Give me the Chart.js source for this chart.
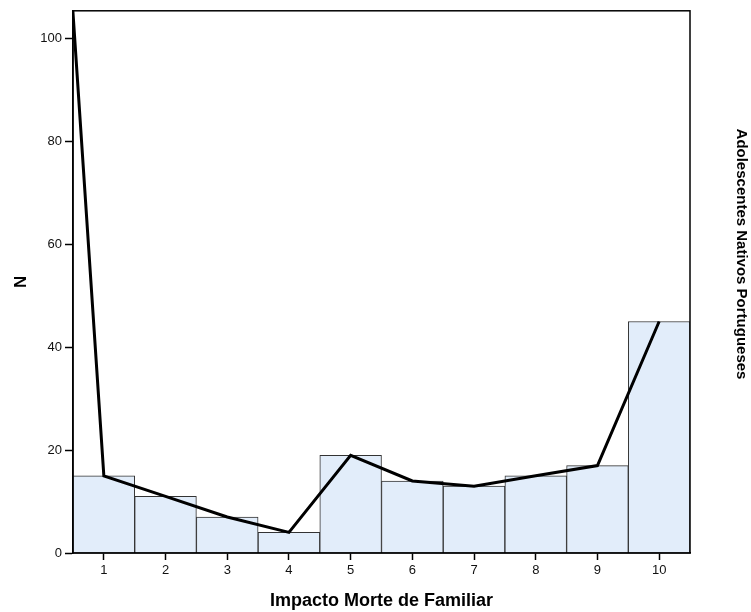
<!DOCTYPE html>
<html>
<head>
<meta charset="utf-8">
<script src="https://cdn.jsdelivr.net/npm/chart.js@4/dist/chart.umd.min.js"></script>
<style>
  html, body { margin: 0; padding: 0; background: #fff; }
  #wrap { width: 751px; height: 612px; }
</style>
</head>
<body>
<div id="wrap"><canvas id="c"></canvas></div>
<script>
var categorias = [1, 2, 3, 4, 5, 6, 7, 8, 9, 10];
var frequencias = [15, 11, 7, 4, 19, 14, 13, 15, 17, 45];
// poligono de frequencias (inclui o ponto 0, cortado pela area do grafico)
var linhaX = [0, 1, 2, 3, 4, 5, 6, 7, 8, 9, 10];
var linhaY = [195, 15, 11, 7, 4, 19, 14, 13, 15, 17, 45];
var ticksY = [0, 20, 40, 60, 80, 100];
var ticksX = [1, 2, 3, 4, 5, 6, 7, 8, 9, 10];

var fonte = '"Liberation Sans", Arial, sans-serif';

var caixa = {
    id: 'caixa',
    afterDraw: function (chart) {
        var a = chart.chartArea, ctx = chart.ctx;
        ctx.save();
        ctx.strokeStyle = '#000';
        ctx.lineWidth = 1.5;
        ctx.strokeRect(a.left, a.top, a.right - a.left, a.bottom - a.top);
        // titulo do painel a direita
        ctx.translate(741, 254);
        ctx.rotate(Math.PI / 2);
        ctx.fillStyle = '#000';
        ctx.font = 'bold 15px ' + fonte;
        ctx.textAlign = 'center';
        ctx.textBaseline = 'middle';
        ctx.fillText('Adolescentes Nativos Portugueses', 0, 0);
        ctx.restore();
    }
};

new Chart(document.getElementById('c'), {
    type: 'bar',
    data: {
        datasets: [{
            type: 'line',
            data: linhaX.map(function (x, i) { return {x: x, y: linhaY[i]}; }),
            borderColor: '#000',
            borderWidth: 3,
            pointRadius: 0,
            tension: 0,
            order: 0
        }, {
            data: categorias.map(function (x, i) { return {x: x, y: frequencias[i]}; }),
            backgroundColor: '#e2edfa',
            borderColor: '#333',
            borderWidth: 1,
            barPercentage: 1,
            categoryPercentage: 1,
            order: 1
        }]
    },
    options: {
        responsive: true,
        maintainAspectRatio: false,
        animation: false,
        layout: {padding: {left: 0, right: 61, top: 10, bottom: 0}},
        plugins: {legend: {display: false}, tooltip: {enabled: false}},
        scales: {
            x: {
                type: 'linear',
                offset: false,
                min: 0.5,
                max: 10.5,
                afterBuildTicks: function (s) { s.ticks = ticksX.map(function (v) { return {value: v}; }); },
                afterFit: function (s) { s.height = 59; },
                grid: {offset: false, drawOnChartArea: false, drawTicks: true, tickLength: 7, tickColor: '#000', tickWidth: 1.5},
                border: {display: true, color: '#000', width: 1.5},
                ticks: {color: '#111', font: {family: fonte, size: 13}, padding: 3, maxRotation: 0},
                title: {display: true, text: 'Impacto Morte de Familiar', color: '#000',
                        font: {family: fonte, size: 18, weight: 'bold'}, padding: {top: 1, bottom: 0}}
            },
            y: {
                min: 0,
                max: 105.4,
                afterBuildTicks: function (s) { s.ticks = ticksY.map(function (v) { return {value: v}; }); },
                afterFit: function (s) { s.width = 73; },
                grid: {drawOnChartArea: false, drawTicks: true, tickLength: 8, tickColor: '#000', tickWidth: 1.5},
                border: {display: true, color: '#000', width: 1.5},
                ticks: {color: '#111', font: {family: fonte, size: 13}, padding: 3},
                title: {display: true, text: 'N', color: '#000',
                        font: {family: fonte, size: 17, weight: 'bold'}, padding: {top: 11, bottom: 0}}
            }
        }
    },
    plugins: [caixa]
});
</script>
</body>
</html>
